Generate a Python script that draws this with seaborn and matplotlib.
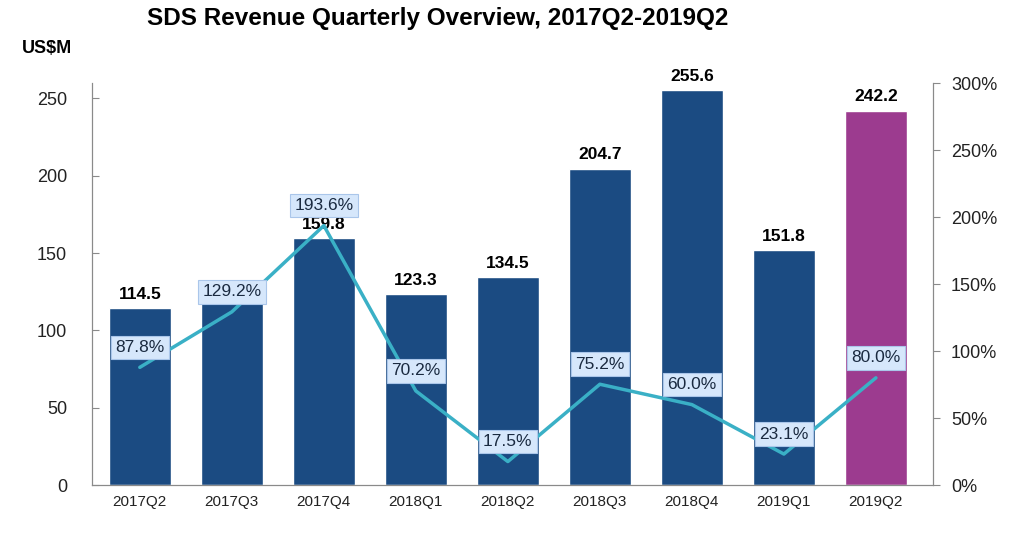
import numpy as np
import pandas as pd
import matplotlib
matplotlib.use("Agg")
import matplotlib.pyplot as plt
import seaborn as sns

sns.set_style("white")
plt.rcParams['font.family'] = ['Liberation Sans', 'DejaVu Sans']
plt.rcParams['text.color'] = 'black'
plt.rcParams['xtick.color'] = '#222222'
plt.rcParams['ytick.color'] = '#222222'

# Dados
quarters = ['2017Q2', '2017Q3', '2017Q4', '2018Q1', '2018Q2', '2018Q3', '2018Q4', '2019Q1', '2019Q2']
revenue = [114.5, 117.4, 159.8, 123.3, 134.5, 204.7, 255.6, 151.8, 242.2]
growth = [87.8, 129.2, 193.6, 70.2, 17.5, 75.2, 60.0, 23.1, 80.0]
show_value = [True, False, True, True, True, True, True, True, True]
kind = ['actual'] * 8 + ['latest']

df = pd.DataFrame({'quarter': quarters, 'revenue': revenue, 'growth': growth, 'kind': kind})
df['pos'] = np.arange(len(df))

bar_colors = {'actual': '#1b4b82', 'latest': '#9c3b8f'}
line_color = '#3ab0c6'
spine_color = '#8a8a8a'

fig = plt.figure(figsize=(10.24, 5.38), dpi=100)
ax = fig.add_axes([0.0898, 0.0985, 0.8213, 0.7472])

sns.barplot(data=df, x='quarter', y='revenue', hue='kind', palette=bar_colors,
            width=0.67, dodge=False, legend=False, saturation=1, ax=ax)
ax.set_ylim(0, 260)
ax.set_xlim(-0.52, 8.62)
ax.set_yticks([0, 50, 100, 150, 200, 250])
ax.set_xlabel('')
ax.set_ylabel('')

for i, row in df.iterrows():
    if show_value[i]:
        ax.text(row['pos'], row['revenue'] + 4, f"{row['revenue']:.1f}", ha='center', va='bottom',
                fontsize=12.5, fontweight='bold', color='black', zorder=3)

ax2 = ax.twinx()
sns.lineplot(data=df, x='pos', y='growth', color=line_color, linewidth=2.5, ax=ax2)
ax2.set_ylim(0, 300)
ax2.set_yticks(np.arange(0, 301, 50))
ax2.set_yticklabels([f'{v}%' for v in range(0, 301, 50)])
ax2.set_ylabel('')
ax2.set_xlabel('')
ax2.set_xlim(-0.52, 8.62)

for i, row in df.iterrows():
    ax2.annotate(f"{row['growth']:.1f}%", (row['pos'], row['growth']), xytext=(0, 20),
                 textcoords='offset pixels',
                 ha='center', va='center', fontsize=12.5, color='#1a2a40', zorder=5,
                 bbox=dict(boxstyle='square,pad=0.25', facecolor='#d6e7fb', edgecolor='#aac6ea', linewidth=0.8))

ax.set_xticks(df['pos'])
ax.set_xticklabels(quarters)
ax.set_xticks(np.arange(-0.5, 8.6, 1), minor=True)

for a in (ax, ax2):
    for s in a.spines.values():
        s.set_color(spine_color)
    a.spines['top'].set_visible(False)

ax.tick_params(axis='x', which='major', length=0, labelsize=11, pad=7)
ax.tick_params(axis='x', which='minor', length=5, direction='in', color=spine_color)
ax.tick_params(axis='y', length=5, direction='in', color=spine_color, labelsize=13, pad=18)
ax2.tick_params(axis='y', length=5, direction='out', color=spine_color, labelsize=13, pad=8)

fig.text(0.427, 0.965, 'SDS Revenue Quarterly Overview, 2017Q2-2019Q2', ha='center', va='center',
         fontsize=17.5, fontweight='bold')
fig.text(0.046, 0.91, 'US$M', ha='center', va='center', fontsize=13, fontweight='bold')

plt.savefig('out.png', dpi=100)
